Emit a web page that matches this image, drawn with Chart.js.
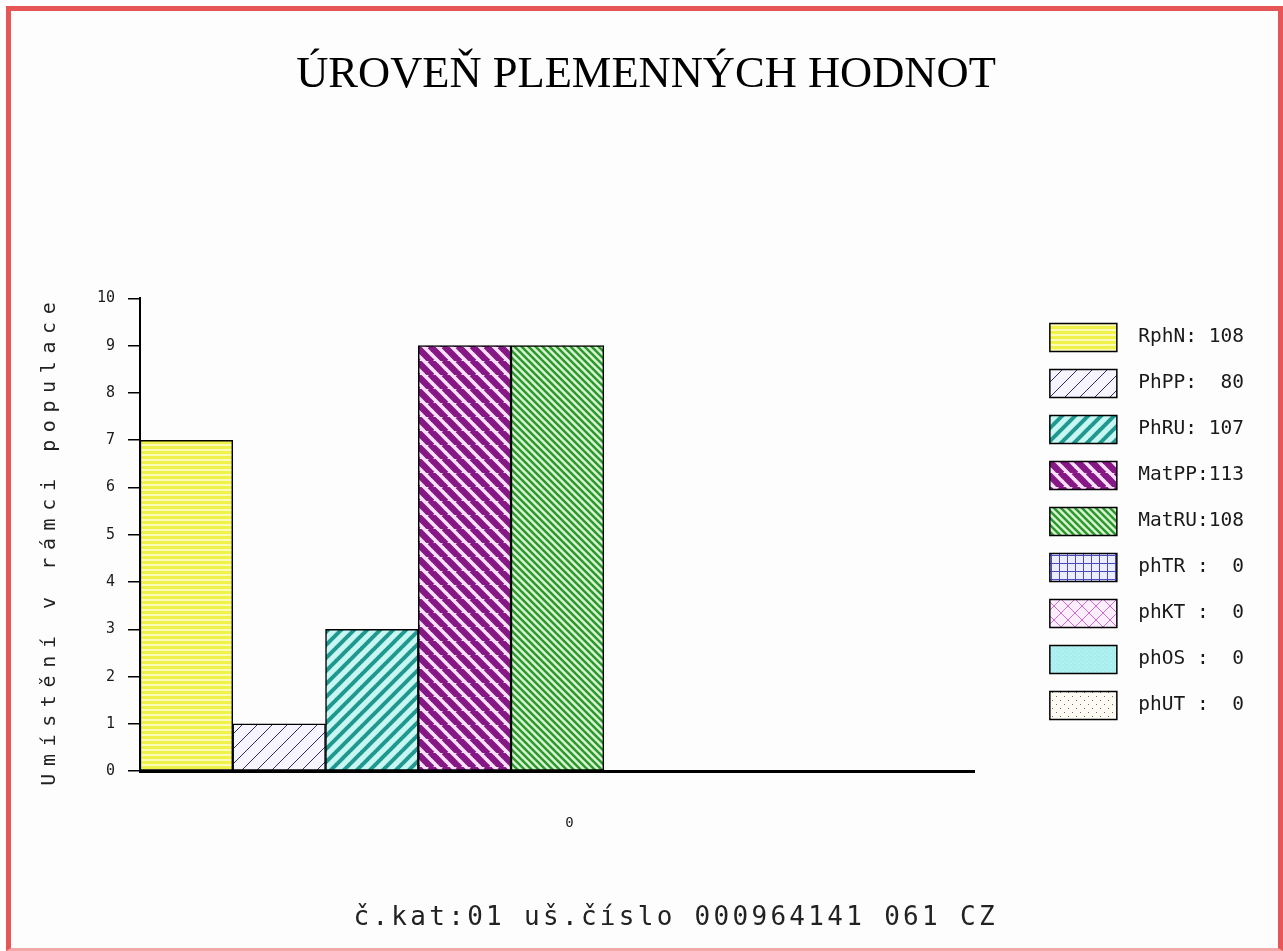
<!DOCTYPE html>
<html>
<head>
<meta charset="utf-8">
<script src="https://cdn.jsdelivr.net/npm/chart.js@4/dist/chart.umd.min.js"></script>
<style>
  html, body { margin: 0; padding: 0; background: #ffffff; }
  #frame {
    position: absolute; left: 6px; top: 6px;
    width: 1267px; height: 937px;
    border-left: 5px solid #e65656; border-top: 5px solid #e65656;
    border-right: 5px solid #e65656; border-bottom: 3px solid #f2a8a8;
    background: #fdfdfd;
  }
  canvas { display: block; }
</style>
</head>
<body>
<div id="frame"><canvas id="chart" width="1267" height="937"></canvas></div>
<script>
"use strict";

// chart data
const titleText = "ÚROVEŇ PLEMENNÝCH HODNOT";
const yAxisTitle = "Umístění v rámci populace";
const footerText = "č.kat:01 uš.číslo 000964141 061 CZ";
const categories = ["0"];
const seriesNames = ["RphN", "PhPP", "PhRU", "MatPP", "MatRU", "phTR", "phKT", "phOS", "phUT"];
const legendKeys = ["RphN:", "PhPP:", "PhRU:", "MatPP:", "MatRU:", "phTR :", "phKT :", "phOS :", "phUT :"];
const breedingValues = [108, 80, 107, 113, 108, 0, 0, 0, 0];
const placement = [7, 1, 3, 9, 9, 0, 0, 0, 0];
const yMin = 0, yMax = 10, yStep = 1;

const monoFont = '"DejaVu Sans Mono", monospace';

var canvas = document.getElementById("chart");
var ctx = canvas.getContext("2d");

// fill patterns
function tile(w, h, draw) {
    const c = document.createElement("canvas");
    c.width = w;
    c.height = h;
    draw(c.getContext("2d"), w, h);
    return ctx.createPattern(c, "repeat");
}

function diagonal(s, bg, fg, lw, dir) {
    return tile(s, s, (g) => {
        g.fillStyle = bg;
        g.fillRect(0, 0, s, s);
        g.strokeStyle = fg;
        g.lineWidth = lw;
        for (let k = -1; k <= 1; k++) {
            g.beginPath();
            if (dir > 0) {
                g.moveTo(k * s - 1, s + 1);
                g.lineTo(k * s + s + 1, -1);
            } else {
                g.moveTo(k * s - 1, -1);
                g.lineTo(k * s + s + 1, s + 1);
            }
            g.stroke();
        }
    });
}

const fills = [
    tile(4, 5, (g, w, h) => {
        g.fillStyle = "#fbfbb8"; g.fillRect(0, 0, w, h);
        g.fillStyle = "#f1f14c"; g.fillRect(0, 0, w, 3);
    }),
    diagonal(15, "#f6f4ff", "#2e2e5e", 1, 1),
    diagonal(13, "#c8f6f2", "#1f9990", 4, 1),
    diagonal(14, "#fbe2fb", "#861886", 6.5, -1),
    diagonal(7, "#d8f4d2", "#2c982c", 2.5, -1),
    tile(8, 8, (g, w, h) => {
        g.fillStyle = "#ececff"; g.fillRect(0, 0, w, h);
        g.fillStyle = "#4a4ac4"; g.fillRect(0, 0, w, 1); g.fillRect(0, 0, 1, h);
    }),
    tile(14, 14, (g, w, h) => {
        g.fillStyle = "#fdeefd"; g.fillRect(0, 0, w, h);
        g.strokeStyle = "#cf6ecf"; g.lineWidth = 1;
        g.beginPath(); g.moveTo(-1, -1); g.lineTo(w + 1, h + 1); g.stroke();
        g.beginPath(); g.moveTo(-1, h + 1); g.lineTo(w + 1, -1); g.stroke();
    }),
    tile(4, 4, (g, w, h) => {
        g.fillStyle = "#a8eeee"; g.fillRect(0, 0, w, h);
        g.fillStyle = "#c4f6f6"; g.fillRect(0, 0, 1, 1); g.fillRect(2, 2, 1, 1);
    }),
    tile(8, 8, (g, w, h) => {
        g.fillStyle = "#fdfbf3"; g.fillRect(0, 0, w, h);
        g.fillStyle = "#7d6a4c"; g.fillRect(1, 1, 1, 1); g.fillRect(5, 5, 1, 1);
    })
];

const datasets = seriesNames.map((name, i) => ({
    label: name,
    data: [placement[i]],
    backgroundColor: fills[i],
    borderColor: "#000000",
    borderWidth: 1.5,
    borderSkipped: false,
    categoryPercentage: 1,
    barPercentage: 1
}));

// y axis title and bottom caption, letter-spaced like the original
const sideTexts = {
    id: "sideTexts",
    afterDraw(chart) {
        const c = chart.ctx;
        c.save();
        c.fillStyle = "#222222";
        c.textBaseline = "middle";
        c.textAlign = "left";

        c.font = "20px " + monoFont;
        c.letterSpacing = "7.6px";
        let w = c.measureText(yAxisTitle).width - 7.6;
        c.translate(39, 533);
        c.rotate(-Math.PI / 2);
        c.fillText(yAxisTitle, -w / 2, 0);
        c.setTransform(1, 0, 0, 1, 0, 0);

        c.font = "26px " + monoFont;
        c.letterSpacing = "3.3px";
        w = c.measureText(footerText).width - 3.3;
        c.fillText(footerText, 663 - w / 2, 907);
        c.restore();
    }
};

new Chart(ctx, {
    type: "bar",
    data: {
        labels: categories,
        datasets: datasets
    },
    plugins: [sideTexts],
    options: {
        responsive: false,
        animation: false,
        layout: {padding: {top: 0, right: 24, bottom: 72, left: 27}},
        plugins: {
            tooltip: {enabled: false},
            title: {
                display: true,
                text: titleText,
                color: "#000000",
                font: {family: '"Liberation Serif", serif', size: 44.5, weight: "normal"},
                padding: {top: 38, bottom: 196}
            },
            legend: {
                position: "right",
                fullSize: false,
                align: "start",
                maxWidth: 300,
                title: {display: true, text: "", font: {size: 5}, padding: {top: 1, bottom: 0}},
                labels: {
                    boxWidth: 67,
                    boxHeight: 28,
                    padding: 18,
                    color: "#1a1a1a",
                    font: {family: monoFont, size: 19.5},
                    generateLabels(chart) {
                        return chart.data.datasets.map((ds, i) => ({
                            text: " " + legendKeys[i].padEnd(6) + String(breedingValues[i]).padStart(3),
                            fillStyle: ds.backgroundColor,
                            strokeStyle: "#000000",
                            fontColor: "#1a1a1a",
                            lineWidth: 1.5,
                            hidden: false,
                            datasetIndex: i
                        }));
                    }
                }
            }
        },
        scales: {
            x: {
                grid: {display: false, drawTicks: false},
                border: {display: true, color: "#000000", width: 3},
                ticks: {padding: 44, labelOffset: 12, color: "#1a1a1a", font: {family: monoFont, size: 14}}
            },
            y: {
                min: yMin,
                max: yMax,
                ticks: {stepSize: yStep, padding: 13, color: "#1a1a1a", font: {family: monoFont, size: 15}},
                grid: {drawOnChartArea: false, tickLength: 12, color: "#000000", lineWidth: 1.5},
                border: {color: "#000000", width: 2},
                afterFit(scale) { scale.width = 102; }
            },
            gap: {
                type: "linear",
                position: "right",
                grid: {display: false},
                ticks: {display: false},
                border: {display: false},
                afterFit(scale) { scale.width = 57; }
            }
        }
    }
});
</script>
</body>
</html>
